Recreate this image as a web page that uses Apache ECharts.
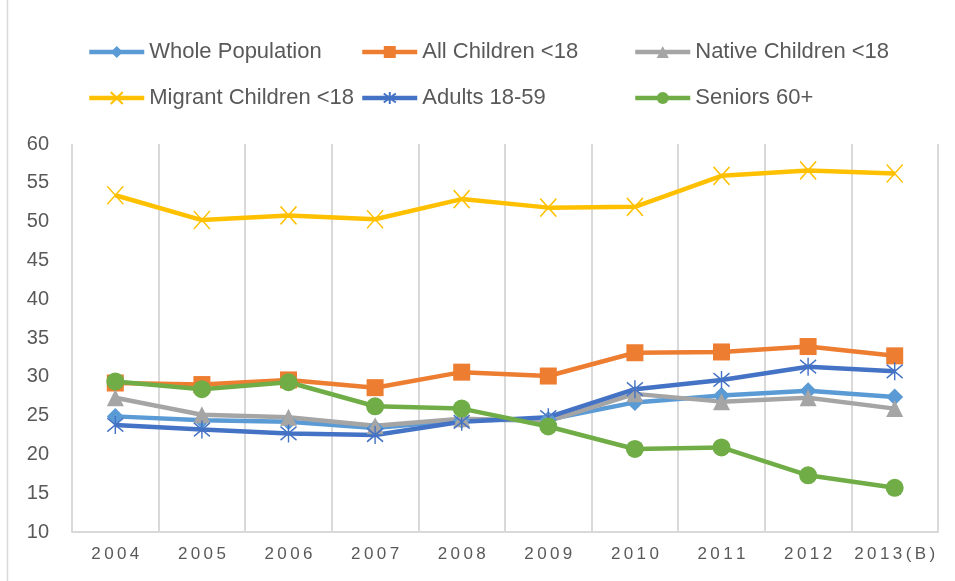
<!DOCTYPE html>
<html>
<head>
<meta charset="utf-8">
<script src="https://cdn.jsdelivr.net/npm/echarts@6/dist/echarts.min.js"></script>
<style>html,body{margin:0;padding:0;background:#fff}#c{width:955px;height:581px}</style>
</head>
<body>
<div id="c"></div>
<script>
const years = ['2004','2005','2006','2007','2008','2009','2010','2011','2012','2013(B)'];
const wholePopulation = [24.9, 24.4, 24.2, 23.4, 24.4, 24.5, 26.7, 27.6, 28.2, 27.4];
const allChildren = [29.2, 29.0, 29.6, 28.6, 30.6, 30.1, 33.1, 33.2, 33.9, 32.7];
const nativeChildren = [27.3, 25.1, 24.8, 23.7, 24.6, 24.3, 27.8, 26.8, 27.3, 25.9];
const migrantChildren = [53.4, 50.2, 50.8, 50.3, 52.9, 51.8, 51.9, 55.9, 56.6, 56.2];
const adults = [23.8, 23.2, 22.7, 22.5, 24.2, 24.8, 28.4, 29.6, 31.3, 30.7];
const seniors = [29.4, 28.4, 29.3, 26.2, 25.9, 23.6, 20.7, 20.9, 17.3, 15.7];
const yTicks = {min: 10, max: 60, step: 5};

const chart = echarts.init(document.getElementById('c'), null, {renderer: 'canvas'});
const FONT = 'Liberation Sans';
const TXT = '#595959';
function mk(name, data, color, symbol, size, extra) {
  return Object.assign({
    name, type: 'line', data, symbol, symbolSize: size,
    lineStyle: {color, width: 4.5},
    itemStyle: {color},
    emphasis: {disabled: true},
    animation: false
  }, extra || {});
}
const xSym = 'path://M0,0L10,12M10,0L0,12';
const starSym = 'path://M5,0L5,12M0,1.5L10,10.5M0,10.5L10,1.5';
const series = [
  mk('Whole Population', wholePopulation, '#5B9BD5', 'diamond', 17),
  mk('All Children <18', allChildren, '#ED7D31', 'rect', 17),
  mk('Native Children <18', nativeChildren, '#A5A5A5', 'triangle', 17),
  mk('Migrant Children <18', migrantChildren, '#FFC000', xSym, [16, 18], {itemStyle: {color: 'none', borderColor: '#FFC000', borderWidth: 1.5}}),
  mk('Adults 18-59', adults, '#4472C4', starSym, [16, 18], {itemStyle: {color: 'none', borderColor: '#4472C4', borderWidth: 1.5}}),
  mk('Seniors 60+', seniors, '#70AD47', 'circle', 18)
];
function leg(left, names) {
  return {
    left, top: 41, orient: 'vertical', itemGap: 24, itemWidth: 55, itemHeight: 15, padding: 0,
    data: names, selectedMode: false,
    lineStyle: {width: 4.5},
    textStyle: {fontFamily: FONT, fontSize: 22, color: TXT}
  };
}
chart.setOption({
  animation: false,
  backgroundColor: '#fff',
  legend: [
    leg(87, ['Whole Population', 'Migrant Children <18']),
    leg(360, ['All Children <18', 'Adults 18-59']),
    leg(633, ['Native Children <18', 'Seniors 60+'])
  ],
  grid: {left: 72, right: 17, top: 144, bottom: 49, containLabel: false},
  xAxis: {
    type: 'category', data: years, boundaryGap: true,
    axisLine: {lineStyle: {color: '#d9d9d9', width: 2}},
    axisTick: {show: false, interval: 0},
    splitLine: {show: true, interval: 0, lineStyle: {color: '#d9d9d9', width: 2}},
    axisLabel: {interval: 0, fontFamily: FONT, fontSize: 17, color: TXT, margin: 14,
      formatter: v => v.split('').join('\u2009')}
  },
  yAxis: {
    type: 'value', min: yTicks.min, max: yTicks.max, interval: yTicks.step,
    axisLine: {show: false}, axisTick: {show: false}, splitLine: {show: false},
    axisLabel: {fontFamily: FONT, fontSize: 20, color: TXT, margin: 23}
  },
  graphic: [{type: 'line', shape: {x1: 7.5, y1: 0, x2: 7.5, y2: 581}, style: {stroke: '#d9d9d9', lineWidth: 1.5}, silent: true}],
  series
});
</script>
</body>
</html>
